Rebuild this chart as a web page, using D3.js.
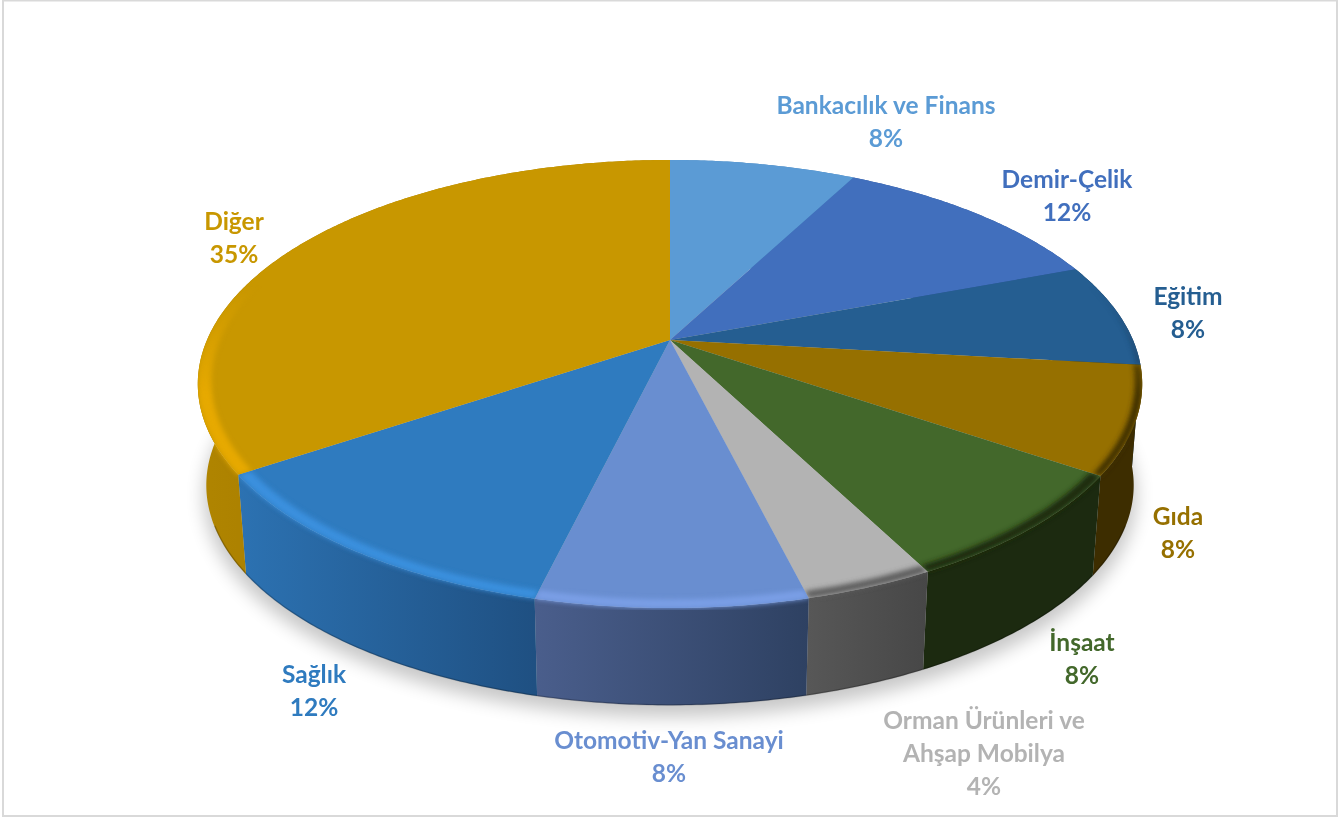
<!DOCTYPE html>
<html>
<head>
<meta charset="utf-8">
<script src="https://cdn.jsdelivr.net/npm/d3@7"></script>
<style>
  html, body { margin: 0; background: #fff; }
  svg { display: block; }
  text { font-family: Lato, sans-serif; font-weight: 700; font-size: 24.5px; text-anchor: middle; }
</style>
</head>
<body>
<div id="chart"></div>
<script>
// Data
const categories = ["Bankacılık ve Finans", "Demir-Çelik", "Eğitim", "Gıda", "İnşaat",
  "Orman Ürünleri ve Ahşap Mobilya", "Otomotiv-Yan Sanayi", "Sağlık", "Diğer"];
const shares = [7.7, 11.6, 7.5, 7.7, 7.9, 3.7, 7.7, 11.8, 34.4]; // slice sizes, measured
const shownPercent = [8, 12, 8, 8, 8, 4, 8, 12, 35];             // what the labels say

// Colours
const topColors = ["#5b9bd5", "#416fbd", "#255e91", "#967000", "#43682b", "#b3b3b3", "#698ed0", "#2f7bbf", "#c89700"];
const wallFrom = ["#4a86bd", "#345a9c", "#13334f", "#3d2d00", "#1c2a10", "#575757", "#4a5e8c", "#2c72b2", "#b08500"];
const wallTo = ["#4a86bd", "#345a9c", "#13334f", "#3d2d00", "#1c2a10", "#474747", "#2e4162", "#1f5082", "#ad8200"];
const bevelColors = [null, null, "#13334f", "#3d2d00", "#1c2a10", "#5c5c5c", "#7a9fe6", "#3b90de", "#e6a900"];
const bevelInner = [1, 1, 0.993, 0.985, 0.978, 0.978, 0.974, 0.974, 0.972]; // inner edge of the rim band

// Label centres, one per category
const labelX = [886, 1067, 1188, 1178, 1082, 984, 669, 314, 234];
const labelY = [114, 188, 305, 525, 651, 729, 749, 683, 230];
const lineStep = 33;

const width = 1339;
const height = 818;

// Pie geometry: a circle seen in perspective
const cx = 670;
const cy = 340;
const a = 463;
const b = 215.4;
const k = -0.1964;
const wallDrop = 102;
const wallShrink = 0.982;

function topPoint(angle, r) {
  const X = r * Math.sin(angle);
  const Y = -r * Math.cos(angle);
  const den = 1 + k * Y;
  return [cx + a * X / den, cy + b * Y / den];
}

function bottomPoint(angle, r) {
  const p = topPoint(angle, r);
  return [cx + (p[0] - cx) * wallShrink, cy + (p[1] - cy) * wallShrink + wallDrop];
}

function arcAngles(d) {
  const n = Math.ceil((d.endAngle - d.startAngle) / 0.01);
  return d3.range(n + 1).map((i) => d.startAngle + (d.endAngle - d.startAngle) * i / n);
}

const line = d3.line();
const pie = d3.pie().sort(null).value((d) => d);
const slices = pie(shares);

const svg = d3.select("#chart").append("svg")
  .attr("width", width)
  .attr("height", height);

const defs = svg.append("defs");

defs.append("filter").attr("id", "shadowBlur")
  .attr("x", "-10%").attr("y", "-10%").attr("width", "120%").attr("height", "120%")
  .append("feGaussianBlur").attr("stdDeviation", 9);
defs.append("filter").attr("id", "bevelBlur")
  .attr("x", "-10%").attr("y", "-10%").attr("width", "120%").attr("height", "120%")
  .append("feGaussianBlur").attr("stdDeviation", 2.6);

// Bevel fades out toward the back of the pie
const fade = defs.append("linearGradient").attr("id", "bevelFade")
  .attr("gradientUnits", "userSpaceOnUse")
  .attr("x1", 0).attr("x2", 0).attr("y1", 285).attr("y2", 395);
fade.append("stop").attr("offset", 0).attr("stop-color", "#000");
fade.append("stop").attr("offset", 1).attr("stop-color", "#fff");
defs.append("mask").attr("id", "bevelMask")
  .attr("maskUnits", "userSpaceOnUse")
  .attr("x", 0).attr("y", 0).attr("width", width).attr("height", height)
  .append("rect").attr("width", width).attr("height", height).attr("fill", "url(#bevelFade)");

// Frame
svg.append("rect")
  .attr("x", 3).attr("y", 0.5)
  .attr("width", 1334).attr("height", 815.5)
  .attr("fill", "#fff")
  .attr("stroke", "#d9d9d9")
  .attr("stroke-width", 2);

// Soft shadow under the pie
const all = { startAngle: 0, endAngle: 2 * Math.PI };
svg.append("path")
  .attr("d", line(arcAngles(all).map((t) => bottomPoint(t, 1.005))) + "Z")
  .attr("transform", "translate(0,10)")
  .attr("fill", "#000")
  .attr("opacity", 0.22)
  .attr("filter", "url(#shadowBlur)");

function wallOutline(d) {
  const angles = arcAngles(d);
  return line(angles.map((t) => topPoint(t, 1))
    .concat(angles.slice().reverse().map((t) => bottomPoint(t, 1)))) + "Z";
}

// Walls
slices.forEach((d, i) => {
  const angles = arcAngles(d);
  const front = angles.filter((t) => Math.cos(t) < 0.1);
  const xs = d3.extent((front.length ? front : angles).map((t) => topPoint(t, 1)[0]));
  const grad = defs.append("linearGradient").attr("id", "wall" + i)
    .attr("gradientUnits", "userSpaceOnUse")
    .attr("x1", xs[0]).attr("x2", xs[1]).attr("y1", 0).attr("y2", 0);
  grad.append("stop").attr("offset", 0).attr("stop-color", wallFrom[i]);
  grad.append("stop").attr("offset", 1).attr("stop-color", wallTo[i]);

  svg.append("path")
    .attr("d", wallOutline(d))
    .attr("fill", "url(#wall" + i + ")");
});

// Thin dark line where the wall meets the ground
const frontEdge = { startAngle: Math.PI * 0.62, endAngle: Math.PI * 1.38 };
svg.append("path")
  .attr("d", line(arcAngles(frontEdge).map((t) => bottomPoint(t, 0.999))))
  .attr("fill", "none")
  .attr("stroke", "#000")
  .attr("stroke-opacity", 0.22)
  .attr("stroke-width", 1.5);

// Top faces
function wedge(d, r) {
  return line([[cx, cy]].concat(arcAngles(d).map((t) => topPoint(t, r)))) + "Z";
}

svg.selectAll(".slice")
  .data(slices)
  .join("path")
  .attr("class", "slice")
  .attr("d", (d) => wedge(d, 1))
  .attr("fill", (d, i) => topColors[i]);

// Rounded rim on the near side, kept inside the pie's silhouette
const bevels = svg.append("g").attr("mask", "url(#bevelMask)");
slices.forEach((d, i) => {
  if (!bevelColors[i]) return;
  const clip = defs.append("clipPath").attr("id", "clip" + i);
  clip.append("path").attr("d", wedge(d, 1));
  clip.append("path").attr("d", wallOutline(d));
  const angles = arcAngles(d);
  const band = angles.map((t) => topPoint(t, 1))
    .concat(angles.slice().reverse().map((t) => topPoint(t, bevelInner[i])));
  bevels.append("g").attr("clip-path", "url(#clip" + i + ")")
    .append("path")
    .attr("d", line(band) + "Z")
    .attr("fill", bevelColors[i])
    .attr("filter", "url(#bevelBlur)");
});

// Labels
function labelLines(name) {
  const cut = name.indexOf(" ve ");
  return name.length > 20 ? [name.slice(0, cut + 3), name.slice(cut + 4)] : [name];
}

categories.forEach((name, i) => {
  const t = svg.append("text")
    .attr("x", labelX[i])
    .attr("y", labelY[i])
    .attr("fill", topColors[i]);
  labelLines(name).concat(shownPercent[i] + "%").forEach((s, j) => {
    t.append("tspan")
      .attr("x", labelX[i])
      .attr("y", labelY[i] + j * lineStep)
      .text(s);
  });
});
</script>
</body>
</html>
